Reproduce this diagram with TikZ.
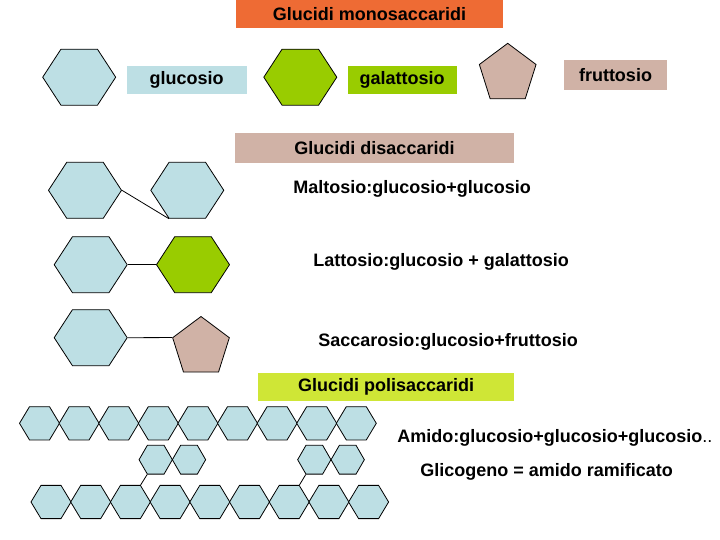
\documentclass[tikz,border=0pt]{standalone}
\usepackage{fontspec}
\setmainfont{Liberation Sans}
\usetikzlibrary{shapes.geometric}

\definecolor{glublue}{HTML}{BDDFE4}
\definecolor{galgreen}{HTML}{99CC00}
\definecolor{frutan}{HTML}{D0B2A6}
\definecolor{monoorange}{HTML}{EE6B34}
\definecolor{poligreen}{HTML}{CFE636}

\begin{document}
\begin{tikzpicture}[x=1pt,y=-1pt,line width=0.8pt,
        every node/.style={font=\fontsize{18}{21}\selectfont\bfseries, inner sep=0pt},
        bigsug/.style={regular polygon, regular polygon sides=6, draw, minimum size=73pt, yscale=0.886},
        pento/.style={regular polygon, regular polygon sides=5, draw, fill=frutan, minimum size=59.6pt, yscale=1.03},
        chainsug/.style={regular polygon, regular polygon sides=6, draw, fill=glublue, minimum size=40pt, yscale=0.96},
        tinysug/.style={regular polygon, regular polygon sides=6, draw, fill=glublue, minimum size=33.3pt},
        tag/.style={minimum height=28pt}]
            \useasboundingbox (0,0) rectangle (720,540);

            % monosaccaridi
            \node[tag, fill=monoorange, minimum width=267pt] (mono) at (369.5,14.3) {Glucidi monosaccaridi};
            \node[bigsug, fill=glublue] (glu) at (79.2,77.2) {};
            \node[tag, fill=glublue, minimum width=120pt] (glutag) at (186.7,80.2) {glucosio};
            \node[bigsug, fill=galgreen] (gal) at (300.3,77.2) {};
            \node[tag, fill=galgreen, minimum width=109pt] (galtag) at (402.2,80.2) {galattosio};
            \node[pento] (fru) at (507.7,74) {};
            \node[tag, fill=frutan, minimum width=102.4pt, minimum height=30pt] (frutag) at (615.5,75) {fruttosio};

            % disaccaridi
            \node[tag, fill=frutan, minimum width=279pt, minimum height=30pt] (di) at (374.5,148) {Glucidi disaccaridi};

            \node[bigsug, fill=glublue] (mal1) at (85,190.3) {};
            \node[bigsug, fill=glublue] (mal2) at (187.3,190.3) {};
            \draw (mal1.east) -- (mal2.240);
            \node[anchor=west] (maltxt) at (293,189) {Maltosio:glucosio+glucosio};

            \node[bigsug, fill=glublue] (lat1) at (90.7,264.7) {};
            \node[bigsug, fill=galgreen] (lat2) at (193,264.7) {};
            \draw (lat1.east) -- (lat2.west);
            \node[anchor=west] (lattxt) at (313,262) {Lattosio:glucosio + galattosio};

            \node[bigsug, fill=glublue] (sac1) at (90.7,337.7) {};
            \node[pento] (sac2) at (201,347.2) {};
            \draw (sac1.east) -- (sac2.162);
            \node[anchor=west] (sactxt) at (318,342) {Saccarosio:glucosio+fruttosio};

            % polisaccaridi
            \node[tag, fill=poligreen, minimum width=255.7pt] (poli) at (386.2,386.5) {Glucidi polisaccaridi};
            \foreach \i in {1,...,9} {
                \node[chainsug] (am\i) at ({39.5+(\i-1)*39.6}, 423.3) {};
                \node[chainsug] (gc\i) at ({51+(\i-1)*39.7}, 502) {};
            }
            \foreach \i/\x in {1/155.7, 2/189, 3/314.3, 4/347.7}
                \node[tinysug] (br\i) at (\x, 459.7) {};
            \draw (br1.240) -- (gc3.60);
            \draw (br3.240) -- (gc7.60);

            \node[anchor=west] (amtxt) at (397,438) {Amido:glucosio+glucosio+glucosio{\mdseries..}};
            \node[anchor=west] (gctxt) at (420,472) {Glicogeno = amido ramificato};
\end{tikzpicture}
\end{document}
